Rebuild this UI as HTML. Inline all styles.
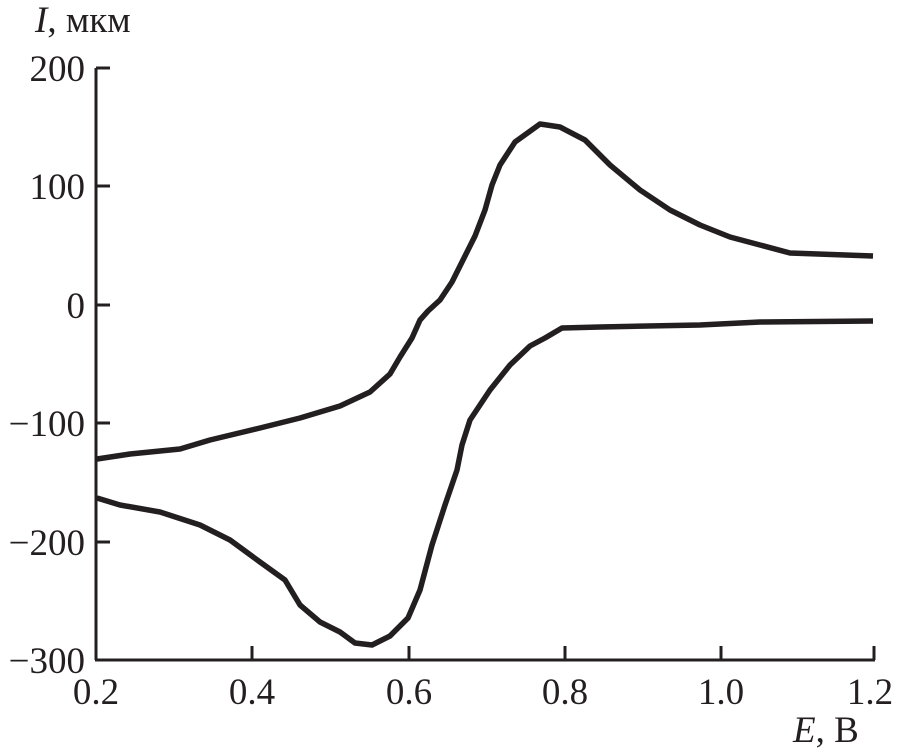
<!DOCTYPE html>
<html><head><meta charset="utf-8"><style>
html,body{margin:0;padding:0;background:#fff;}
svg text{font-family:"Liberation Serif",serif;font-size:37px;fill:#231f20;}
</style></head><body>
<svg width="897" height="750" viewBox="0 0 897 750" xmlns="http://www.w3.org/2000/svg">
<g stroke="#231f20" stroke-width="3" fill="none">
<line x1="96" y1="68" x2="96" y2="660"/>
<line x1="95" y1="660" x2="875" y2="660"/>
<line x1="96" y1="68" x2="110" y2="68"/>
<line x1="96" y1="186" x2="110" y2="186"/>
<line x1="96" y1="305" x2="110" y2="305"/>
<line x1="96" y1="423" x2="110" y2="423"/>
<line x1="96" y1="542" x2="110" y2="542"/>
<line x1="252" y1="660" x2="252" y2="646"/>
<line x1="409" y1="660" x2="409" y2="646"/>
<line x1="565" y1="660" x2="565" y2="646"/>
<line x1="721" y1="660" x2="721" y2="646"/>
<line x1="874" y1="660" x2="874" y2="646"/>
</g>
<g stroke="#231f20" stroke-width="5.5" fill="none" stroke-linejoin="round">
<polyline points="97,459 130,454 180,449 210,440 260,428 300,418 340,406 370,392 390,374 400,357 412,338 420,320 428,311 440,300 452,282 462,262 475,236 485,210 492,185 500,165 515,142 540,124 560,127 585,140 610,165 640,190 670,210 700,225 730,237 760,245 790,253 873,256"/>
<polyline points="97,498 120,505 160,512 200,525 230,540 260,562 285,580 300,605 320,622 340,632 355,643 372,645 390,636 408,618 420,590 432,545 445,505 457,470 462,445 470,420 490,390 510,365 530,346 545,338 562,328 600,327 700,325 760,322 873,321"/>
</g>
<text x="35" y="32"><tspan font-style="italic">I</tspan>, мкм</text>
<text x="85" y="81" text-anchor="end">200</text>
<text x="85" y="199" text-anchor="end">100</text>
<text x="85" y="318" text-anchor="end">0</text>
<text x="85" y="436" text-anchor="end">−100</text>
<text x="85" y="555" text-anchor="end">−200</text>
<text x="85" y="673" text-anchor="end">−300</text>
<text x="96" y="704" text-anchor="middle">0.2</text>
<text x="252" y="704" text-anchor="middle">0.4</text>
<text x="409" y="704" text-anchor="middle">0.6</text>
<text x="565" y="704" text-anchor="middle">0.8</text>
<text x="721" y="704" text-anchor="middle">1.0</text>
<text x="870" y="704" text-anchor="middle">1.2</text>
<text x="793" y="742"><tspan font-style="italic">E</tspan>, В</text>
</svg>
</body></html>
